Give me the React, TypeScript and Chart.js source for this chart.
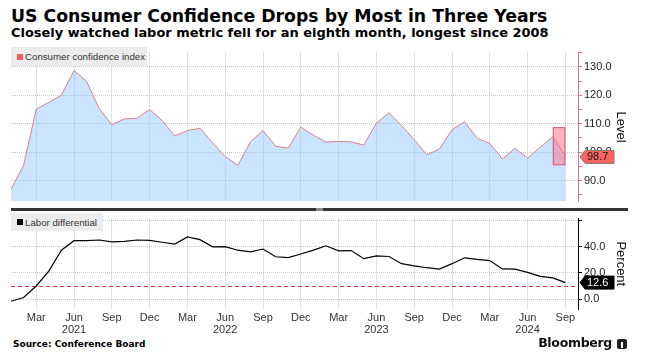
import React, { useEffect, useRef } from 'react';
import { Chart, registerables } from 'chart.js';

Chart.register(...registerables);

// Monthly, Jan 2021 .. Sep 2024
const startYear = 2021;
const monthNames = ['Jan', 'Feb', 'Mar', 'Apr', 'May', 'Jun', 'Jul', 'Aug', 'Sep', 'Oct', 'Nov', 'Dec'];

const confidence = [
  87.0, 95.4, 115.1, 117.5, 120.0, 128.7, 124.9, 115.3, 109.7, 111.7, 111.9, 115.0,
  111.1, 105.7, 107.6, 108.4, 103.3, 98.4, 95.4, 103.6, 107.6, 102.1, 101.4, 108.8,
  106.0, 103.5, 103.8, 103.6, 102.5, 110.2, 113.9, 109.3, 104.4, 99.1, 101.1, 107.9,
  110.7, 104.9, 103.1, 97.6, 101.3, 97.9, 101.7, 105.4, 98.7,
];

const laborDiff = [
  -1.7, 1.2, 10.0, 21.4, 37.4, 44.7, 44.7, 45.2, 43.8, 44.2, 45.2, 45.0,
  43.5, 42.1, 47.6, 45.5, 40.0, 40.2, 37.4, 36.2, 38.3, 32.4, 31.8, 34.5,
  37.5, 40.8, 36.9, 37.1, 30.9, 33.1, 32.6, 27.1, 25.4, 24.0, 22.9, 27.1,
  31.6, 30.4, 29.5, 23.1, 22.9, 20.4, 17.4, 16.2, 12.6,
];

const levelTicks = [85, 90, 95, 100, 105, 110, 115, 120, 125, 130, 135];
const percentTicks = [0, 20, 40, 60];
const laborReference = 10.0;
// highlight box: from Aug 2024 to Sep 2024, between these levels
const highlightMonths = [43, 44];
const highlightLevels = [95.4, 108.8];

const xMax = confidence.length; // month index scale, Jan 2021 = 0
const quarterTicks: number[] = [];
for (let i = 0; i <= xMax; i++) if (i % 3 === 2) quarterTicks.push(i);

const GRID = '#c6c6c6';
const AXIS_FONT = { family: '"Liberation Sans", Arial, sans-serif', size: 11 };

function drawCallout(ctx: CanvasRenderingContext2D, x: number, y: number, text: string, fill: string, stroke: string, color: string) {
  const h = 13;
  const w = 29;
  const tip = 5;
  ctx.save();
  ctx.beginPath();
  ctx.moveTo(x, y);
  ctx.lineTo(x + tip, y - h / 2);
  ctx.lineTo(x + tip + w, y - h / 2);
  ctx.lineTo(x + tip + w, y + h / 2);
  ctx.lineTo(x + tip, y + h / 2);
  ctx.closePath();
  ctx.fillStyle = fill;
  ctx.fill();
  ctx.strokeStyle = stroke;
  ctx.lineWidth = 1;
  ctx.stroke();
  ctx.fillStyle = color;
  ctx.font = '11px "Liberation Sans", Arial, sans-serif';
  ctx.textBaseline = 'middle';
  ctx.textAlign = 'left';
  ctx.fillText(text, x + tip + 2, y + 0.5);
  ctx.restore();
}

export default function App() {
  const topRef = useRef<HTMLCanvasElement>(null);
  const botRef = useRef<HTMLCanvasElement>(null);

  useEffect(() => {
    const topPlugin = {
      id: 'topExtras',
      afterDatasetsDraw(chart: any) {
        const { ctx, scales } = chart;
        const x0 = scales.x.getPixelForValue(highlightMonths[0]);
        const x1 = scales.x.getPixelForValue(highlightMonths[1]);
        const y0 = scales.y.getPixelForValue(highlightLevels[1]);
        const y1 = scales.y.getPixelForValue(highlightLevels[0]);
        ctx.save();
        ctx.fillStyle = 'rgba(255,105,130,0.5)';
        ctx.fillRect(x0, y0, x1 - x0, y1 - y0);
        ctx.strokeStyle = '#d4607c';
        ctx.lineWidth = 1;
        ctx.strokeRect(x0 + 0.5, y0 + 0.5, x1 - x0 - 1, y1 - y0 - 1);
        ctx.restore();
      },
      afterDraw(chart: any) {
        const last = confidence[confidence.length - 1];
        const y = chart.scales.y.getPixelForValue(last);
        drawCallout(chart.ctx, chart.chartArea.right + 2, y + 1, last.toFixed(1), '#ff6262', '#7a7a7a', '#111');
      },
    };

    const botPlugin = {
      id: 'botExtras',
      beforeDatasetsDraw(chart: any) {
        const { ctx, chartArea, scales } = chart;
        const y = Math.round(scales.y.getPixelForValue(laborReference)) + 0.5;
        ctx.save();
        ctx.strokeStyle = '#e5323f';
        ctx.lineWidth = 1.2;
        ctx.setLineDash([4, 3]);
        ctx.beginPath();
        ctx.moveTo(chartArea.left, y);
        ctx.lineTo(chartArea.right, y);
        ctx.stroke();
        ctx.restore();
      },
      afterDraw(chart: any) {
        const last = laborDiff[laborDiff.length - 1];
        const y = chart.scales.y.getPixelForValue(last);
        drawCallout(chart.ctx, chart.chartArea.right + 2, y, last.toFixed(1), '#000', '#000', '#fff');
      },
    };

    const xCommon = (showLabels: boolean) => ({
      type: 'linear' as const,
      min: 0,
      max: xMax,
      afterBuildTicks: (s: any) => {
        s.ticks = quarterTicks.map((v) => ({ value: v }));
      },
      afterFit: (s: any) => {
        s.height = showLabels ? 27 : 0;
      },
      grid: { color: GRID, drawTicks: false, lineWidth: 1 },
      border: { display: false, dash: [1, 1] },
      ticks: {
        display: showLabels,
        padding: 3,
        maxRotation: 0,
        autoSkip: false,
        color: '#333',
        font: { ...AXIS_FONT, lineHeight: 1.1 },
        callback: (v: any) => {
          const m = Number(v) % 12;
          const yr = startYear + Math.floor(Number(v) / 12);
          return m === 5 ? [monthNames[m], String(yr)] : monthNames[m];
        },
      },
    });

    const top = new Chart(topRef.current!, {
      type: 'line',
      data: {
        datasets: [
          {
            data: confidence.map((v, i) => ({ x: i, y: v })),
            borderColor: '#e3808c',
            borderWidth: 1,
            backgroundColor: 'rgba(150,200,255,0.5)',
            fill: 'start',
            pointRadius: 0,
            tension: 0,
          },
        ],
      },
      options: {
        animation: false,
        responsive: false,
        maintainAspectRatio: false,
        layout: { padding: { left: 11, right: 25, top: 4, bottom: 2 } },
        plugins: { legend: { display: false }, tooltip: { enabled: false } },
        scales: {
          x: xCommon(false) as any,
          y: {
            position: 'right',
            min: 82.7,
            max: 135,
            afterBuildTicks: (s: any) => {
              s.ticks = levelTicks.map((v) => ({ value: v }));
            },
            afterFit: (s: any) => {
              s.width = 50;
            },
            grid: {
              color: (c: any) => (c.tick && c.tick.value % 10 === 0 ? GRID : 'rgba(0,0,0,0)'),
              tickColor: '#e8737d',
              tickLength: 4,
              lineWidth: 1,
            },
            border: { display: true, color: '#e8737d', width: 1, dash: [1, 1] },
            ticks: {
              padding: 2,
              autoSkip: false,
              color: '#222',
              font: AXIS_FONT,
              callback: (v: any) => (Number(v) % 10 === 0 ? Number(v).toFixed(1) : ''),
            },
            title: {
              display: true,
              text: 'Level',
              color: '#111',
              font: { ...AXIS_FONT, size: 13 },
              padding: { top: 0, bottom: 0 },
            },
          },
        },
      },
      plugins: [topPlugin],
    });

    const bot = new Chart(botRef.current!, {
      type: 'line',
      data: {
        datasets: [
          {
            data: laborDiff.map((v, i) => ({ x: i, y: v })),
            borderColor: '#000',
            borderWidth: 1.2,
            fill: false,
            pointRadius: 0,
            tension: 0,
          },
        ],
      },
      options: {
        animation: false,
        responsive: false,
        maintainAspectRatio: false,
        layout: { padding: { left: 11, right: 25, top: 2, bottom: 0 } },
        plugins: { legend: { display: false }, tooltip: { enabled: false } },
        scales: {
          x: xCommon(true) as any,
          y: {
            position: 'right',
            min: -7.6,
            max: 61.6,
            afterBuildTicks: (s: any) => {
              s.ticks = percentTicks.map((v) => ({ value: v }));
            },
            afterFit: (s: any) => {
              s.width = 50;
            },
            grid: { color: GRID, tickColor: '#000', tickLength: 4, lineWidth: 1 },
            border: { display: true, color: '#000', width: 1, dash: [1, 1] },
            ticks: {
              padding: 2,
              autoSkip: false,
              color: '#222',
              font: AXIS_FONT,
              callback: (v: any) => (Number(v) < 60 ? Number(v).toFixed(1) : ''),
            },
            title: {
              display: true,
              text: 'Percent',
              color: '#111',
              font: { ...AXIS_FONT, size: 13 },
              padding: { top: 0, bottom: 0 },
            },
          },
        },
      },
      plugins: [botPlugin],
    });

    return () => {
      top.destroy();
      bot.destroy();
    };
  }, []);

  const legendBox: React.CSSProperties = {
    position: 'absolute',
    background: '#ececec',
    font: '9.7px "Liberation Sans", Arial, sans-serif',
    color: '#333',
    display: 'flex',
    alignItems: 'center',
    boxSizing: 'border-box',
    paddingLeft: 6,
  };

  return (
    <div style={{ position: 'absolute', left: 0, top: 0, width: 653, height: 363, background: '#fff', overflow: 'hidden' }}>
      <div
        style={{
          position: 'absolute', left: 11, top: 6, whiteSpace: 'nowrap',
          font: 'bold 17.3px "DejaVu Sans", sans-serif', color: '#000', lineHeight: '20px',
        }}
      >
        US Consumer Confidence Drops by Most in Three Years
      </div>
      <div
        style={{
          position: 'absolute', left: 11, top: 25, whiteSpace: 'nowrap',
          font: 'bold 12.95px "DejaVu Sans", sans-serif', color: '#000', lineHeight: '16px',
        }}
      >
        Closely watched labor metric fell for an eighth month, longest since 2008
      </div>

      <canvas ref={topRef} width={653} height={166} style={{ position: 'absolute', left: 0, top: 44, width: 653, height: 166 }} />
      <canvas ref={botRef} width={653} height={126} style={{ position: 'absolute', left: 0, top: 210, width: 653, height: 126 }} />

      <div style={{ position: 'absolute', left: 11, top: 208, width: 617, height: 3, background: '#333' }} />
      <div style={{ position: 'absolute', left: 316, top: 208, width: 7, height: 3, background: '#8a8a8a' }} />

      <div style={{ ...legendBox, left: 11, top: 47, width: 136, height: 19 }}>
        <span style={{ display: 'inline-block', width: 6, height: 6, background: '#ff5a5a', marginRight: 2 }} />
        Consumer confidence index
      </div>
      <div style={{ ...legendBox, left: 11, top: 213, width: 92, height: 18 }}>
        <span style={{ display: 'inline-block', width: 6, height: 6, background: '#000', marginRight: 2 }} />
        Labor differential
      </div>

      <div
        style={{
          position: 'absolute', left: 13, top: 339, whiteSpace: 'nowrap',
          font: 'bold 9px "DejaVu Sans", sans-serif', color: '#000', lineHeight: '11px',
        }}
      >
        Source: Conference Board
      </div>
      <div
        style={{
          position: 'absolute', right: 41, top: 336, whiteSpace: 'nowrap', textAlign: 'right',
          font: 'bold 12.5px "DejaVu Sans", sans-serif', color: '#111', lineHeight: '14px', letterSpacing: '-0.3px',
        }}
      >
        Bloomberg
      </div>
      <div style={{ position: 'absolute', left: 617, top: 339, width: 10, height: 10, background: '#222', borderRadius: 2 }}>
        <div style={{ position: 'absolute', left: 4, top: 3, width: 2, height: 6, background: '#fff' }} />
      </div>
    </div>
  );
}
